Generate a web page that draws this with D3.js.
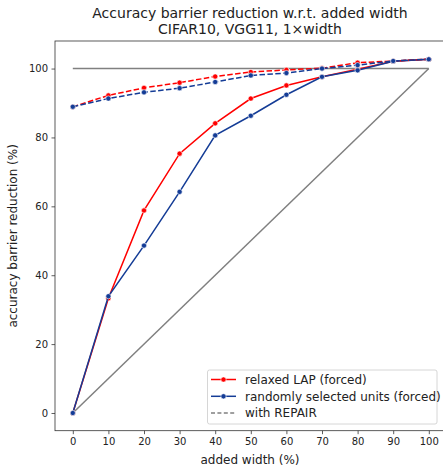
<!DOCTYPE html>
<html><head><meta charset="utf-8">
<script src="https://cdn.jsdelivr.net/npm/d3@7"></script>
<style>body{margin:0;background:#fff}svg{display:block}text{font-family:"DejaVu Sans",sans-serif;fill:#222}</style>
</head><body><svg id="c" width="443" height="471"></svg>
<script>
const widths = [0,10,20,30,40,50,60,70,80,90,100];
const lapForced = [0,33.3,58.8,75.3,84.1,91.3,95.1,97.6,99.8,102.1,102.7];
const randForced = [0,33.9,48.6,64.2,80.6,86.3,92.4,97.6,99.5,102.1,102.7];
const lapRepair = [88.9,92.2,94.4,95.9,97.7,99.0,99.6,100.1,101.7,102.2,102.7];
const randRepair = [88.9,91.3,93.1,94.3,96.1,98.0,98.7,100.0,101.0,102.2,102.7];
const xTicks = [0,10,20,30,40,50,60,70,80,90,100];
const yTicks = [0,20,40,60,80,100];
const titleLines = ["Accuracy barrier reduction w.r.t. added width","CIFAR10, VGG11, 1×width"];
const legendItems = [
  {label:"relaxed LAP (forced)", color:"#ff0000", dash:null, marker:true},
  {label:"randomly selected units (forced)", color:"#143c96", dash:null, marker:true},
  {label:"with REPAIR", color:"#808080", dash:"4,2.4", marker:false}
];
const RED="#ff0000", BLUE="#143c96", GRAY="#808080";

const svg=d3.select("#c");
const L=55,T=41,B=430.7,R=446.6;
const x=d3.scaleLinear().domain([-5,105]).range([L,R]);
const y=d3.scaleLinear().domain([-5.14,108.0]).range([B,T]);

const g=svg.append("g");
g.append("line").attr("x1",x(0)).attr("x2",x(100)).attr("y1",y(100)).attr("y2",y(100)).attr("stroke",GRAY).attr("stroke-width",1.5);
g.append("line").attr("x1",x(0)).attr("x2",x(100)).attr("y1",y(0)).attr("y2",y(100)).attr("stroke",GRAY).attr("stroke-width",1.5);

const line=d3.line().x((d,i)=>x(widths[i])).y(d=>y(d));
function series(vals,color,dash){
  g.append("path").attr("d",line(vals)).attr("fill","none").attr("stroke",color).attr("stroke-width",1.5).attr("stroke-dasharray",dash);
  g.selectAll(null).data(vals).enter().append("circle").attr("cx",(d,i)=>x(widths[i])).attr("cy",d=>y(d)).attr("r",2.6).attr("fill",color).attr("stroke","#fff").attr("stroke-width",0.6);
}
series(lapForced,RED,null);
series(randForced,BLUE,null);
series(lapRepair,RED,"5.5,2.4");
series(randRepair,BLUE,"5.5,2.4");

const xa=svg.append("g").attr("transform",`translate(0,${B})`).call(d3.axisBottom(x).tickValues(xTicks).tickSize(3.5).tickPadding(3.5));
const ya=svg.append("g").attr("transform",`translate(${L},0)`).call(d3.axisLeft(y).tickValues(yTicks).tickSize(3.5).tickPadding(3.5));
[xa,ya].forEach(a=>{a.select(".domain").remove();a.selectAll("text").attr("font-size",10).attr("font-family","DejaVu Sans").attr("fill","#222");a.selectAll("line").attr("stroke","#333").attr("stroke-width",0.8);});
svg.append("rect").attr("x",L).attr("y",T).attr("width",R-L).attr("height",B-T).attr("fill","none").attr("stroke","#333").attr("stroke-width",0.8);

titleLines.forEach((t,i)=>svg.append("text").attr("x",250).attr("y",18+i*16).attr("text-anchor","middle").attr("font-size",14).text(t));
svg.append("text").attr("x",250).attr("y",464).attr("text-anchor","middle").attr("font-size",12).text("added width (%)");
svg.append("text").attr("transform",`translate(17,${(T+B)/2}) rotate(-90)`).attr("text-anchor","middle").attr("font-size",12).text("accuracy barrier reduction (%)");

const lg=svg.append("g");
lg.append("rect").attr("x",207.5).attr("y",370).attr("width",229.5).attr("height",54).attr("rx",2).attr("fill","#fff").attr("fill-opacity",0.8).attr("stroke","#ccc").attr("stroke-width",0.8);
legendItems.forEach((it,i)=>{
  const yy=379.5+i*16.8;
  lg.append("line").attr("x1",211).attr("x2",236).attr("y1",yy).attr("y2",yy).attr("stroke",it.color).attr("stroke-width",1.5).attr("stroke-dasharray",it.dash);
  if(it.marker) lg.append("circle").attr("cx",223.5).attr("cy",yy).attr("r",2.6).attr("fill",it.color).attr("stroke","#fff").attr("stroke-width",0.6);
  lg.append("text").attr("x",245).attr("y",yy+4.2).attr("font-size",12).text(it.label);
});
</script></body></html>
